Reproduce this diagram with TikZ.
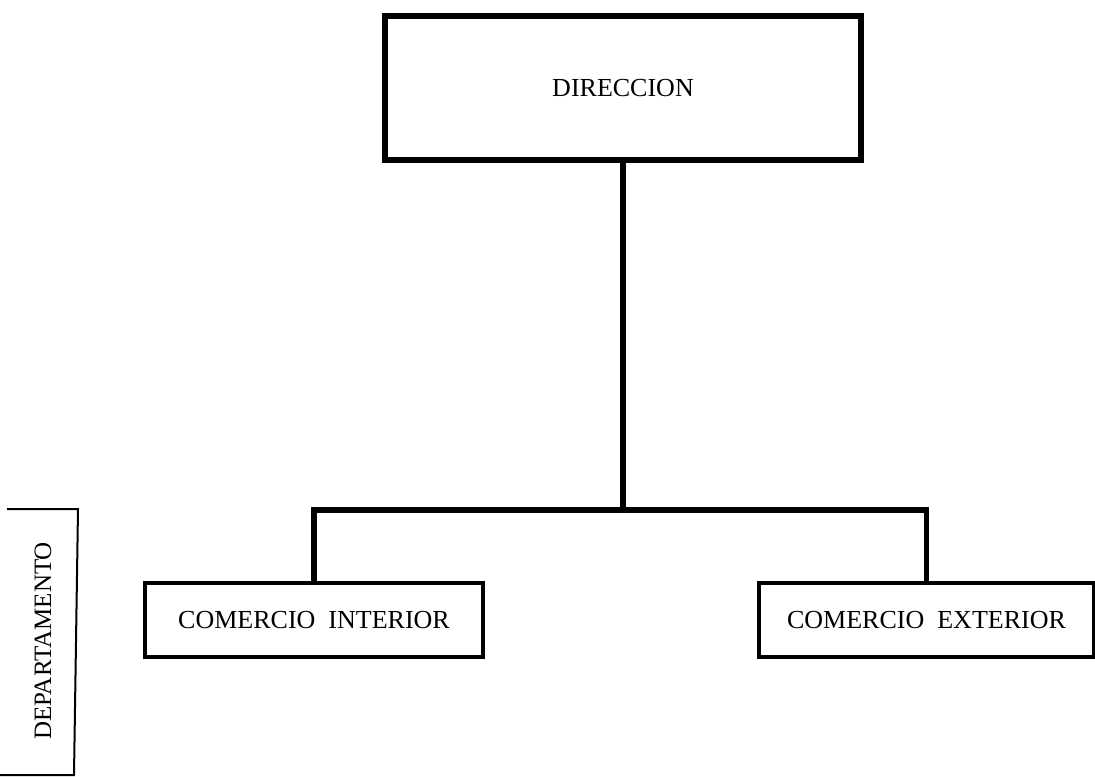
\documentclass[tikz,border=0pt]{standalone}
\usepackage{fontspec}
\setmainfont{Liberation Serif}

\begin{document}
\begin{tikzpicture}[x=0.5pt,y=-0.5pt,
    unitbox/.style={draw, line width=1.6pt, rectangle, inner sep=0pt, font=\fontsize{13}{15}\selectfont},
    link/.style={line width=2.8pt}]
            \useasboundingbox (0,0) rectangle (1095,776);

            \node[unitbox, line width=2.6pt, minimum width=238pt, minimum height=72pt] (dir) at (623,88) {DIRECCION};
            \node[unitbox, minimum width=169pt, minimum height=37pt] (ci) at (314,620) {COMERCIO\ \ INTERIOR};
            \node[unitbox, minimum width=167.5pt, minimum height=37pt] (ce) at (926.5,620) {COMERCIO\ \ EXTERIOR};

            \coordinate (bus) at (623,510);
            \draw[link] (dir.south) -- (bus);
            \draw[link] (ci.north) |- (bus) -| (ce.north);

            \node[rotate=90, font=\fontsize{12.5}{15}\selectfont] (dep) at (43,641) {DEPARTAMENTO};
            \draw[line width=1pt] (7,509) -- (78,509) -- (74,775) -- (0,775);
      \end{tikzpicture}
\end{document}
